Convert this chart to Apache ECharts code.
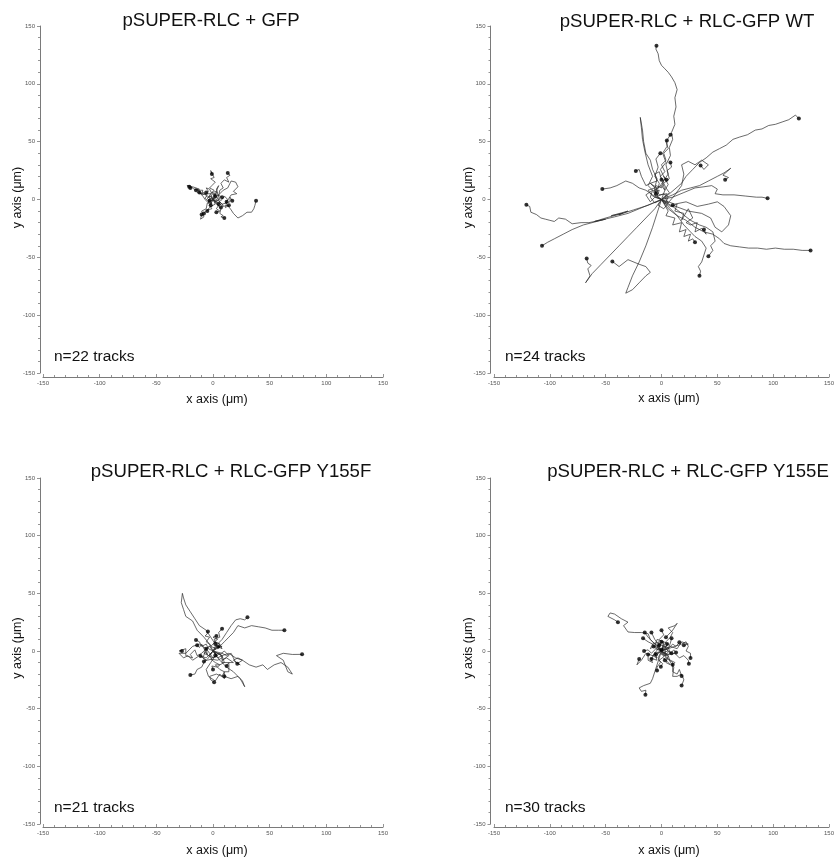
<!DOCTYPE html>
<html>
<head>
<meta charset="utf-8">
<title>Cell migration tracks</title>
<script src="https://cdn.jsdelivr.net/npm/echarts@6/dist/echarts.min.js"></script>
<style>
  html, body { margin: 0; padding: 0; background: #fff; }
  #chart { width: 837px; height: 858px; }
</style>
</head>
<body>
<div id="chart"></div>
<script>
// Migration tracks (µm), each a flat list x0,y0,x1,y1,... starting at the origin.
// The last point of every track is the cell's final position.

const gfpTracks = [
  [0,0, 2,4, -1,6, 3,7, 5,3, 6,8, 9,10, 7,14, 10,17, 14,15, 12,19, 15,21, 13,23],
  [0,0, -2,5, 1,8, -3,10, -1,12, 2,15, -2,18, 1,19, 0,21, -2,25, -1,22],
  [0,0, -4,2, -2,5, -6,5, -10,4, -9,8, -13,8, -17,9, -20,12, -23,12, -21,11],
  [0,0, -3,-2, -7,1, -5,4, -9,5, -14,6, -12,9, -18,11, -20,10],
  [0,0, -2,3, -5,2, -8,6, -11,5, -13,9, -15,8],
  [0,0, -3,1, -4,-3, -7,0, -9,3, -12,6],
  [0,0, 2,3, -1,5, -3,9, -6,10, -4,7, -6,6],
  [0,0, 3,-2, 6,1, 4,4, 8,2],
  [0,0, 4,2, 7,-1, 10,3, 13,0, 11,-3, 15,-2, 15,2, 17,-1],
  [0,0, 5,-3, 9,-6, 13,-5, 16,-9, 18,-12, 22,-16, 26,-14, 30,-11, 34,-11, 36,-8, 37,-5, 38,-1],
  [0,0, -2,-4, -5,-3, -6,-8, -10,-10, -8,-15, -11,-17, -10,-13],
  [0,0, -3,-5, -1,-8, -5,-9, -8,-12],
  [0,0, 2,-4, -2,-6, -4,-8, -5,-10],
  [0,0, 2,-3, 5,-5, 3,-8, 6,-10, 3,-11],
  [0,0, 4,-4, 7,-8, 6,-12, 9,-14, 7,-15, 10,-16],
  [0,0, 5,4, 9,8, 13,10, 16,16, 20,15, 22,11, 18,7, 21,5, 16,4, 14,1, 12,-2],
  [0,0, -2,3, -5,1, -3,-1],
  [0,0, 2,-2, 4,1, 6,-2, 5,-4],
  [0,0, 1,5, 4,6, 3,9, 5,12, 3,7, 2,3],
  [0,0, 3,-3, 6,-2, 9,-5, 7,-7],
  [0,0, -4,-2, -1,-3, -2,-5],
  [0,0, 5,-1, 8,-4, 12,-3, 11,-7, 14,-5]
];

const wtTracks = [
  [0,0, 3,8, 1,15, 6,22, 4,30, 8,38, 7,45, 10,52, 9,58, 12,65, 11,72, 13,80, 12,88, 14,95, 12,101, 9,106, 6,110, 3,113, 0,116, -2,120, -3,126, -5,130, -4.5,133],
  [0,0, 6,4, 12,9, 18,14, 22,20, 28,26, 34,32, 40,36, 46,41, 52,44, 58,47, 64,52, 70,54, 77,56, 84,60, 90,61, 96,64, 102,65, 108,67, 114,69, 120,73, 123,70],
  [0,0, -4,3, -2,8, -7,6, -5,12, 0,10, 2,16, -1,20, 3,24, 0,30, 4,34, 2,40, 6,44, 4,50, 8,56],
  [0,0, 3,-4, 6,2, 2,5, -3,3, -6,8, -1,12, 3,18, -1,26, 4,32, 1,40, 5,46, 4.8,51],
  [0,0, -6,2, -10,-2, -14,4, -8,8, -4,6, -2,14, -6,20, -3,28, -5,35, -1,40],
  [0,0, -3,-5, 2,-8, 6,-3, 3,2, 7,6, 4,10, 2,14, 7,18, 5,25, 9,28, 8,32],
  [0,0, 6,-3, 12,4, 18,12, 20,22, 18,30, 24,33, 30,30, 36,34, 42,30, 38,26, 35,29.5],
  [0,0, -6,4, -4,10, -10,14, -14,12, -18,20, -20,26, -23,24.6],
  [0,0, 10,4, 18,8, 26,10, 34,12, 42,16, 50,20, 56,23, 62,27, 55,21, 60,19, 57,17],
  [0,0, -8,4, -14,8, -20,10, -26,14, -32,16, -40,12, -46,10, -53,9],
  [0,0, 10,2, 20,6, 30,10, 38,11, 45,12, 50,9, 48,5, 55,4, 65,4, 75,3, 85,2, 90,2, 95,1],
  [0,0, -10,-4, -20,-8, -30,-12, -42,-15, -55,-18, -65,-20, -72,-20, -80,-21, -86,-17, -92,-16, -96,-19, -100,-18, -104,-17, -108,-16, -112,-13, -117,-11, -118,-6, -121,-4.6],
  [0,0, -12,-5, -25,-9, -38,-13, -30,-10, -45,-14, -35,-12, -50,-16, -60,-19, -50,-17, -70,-22, -80,-26, -88,-30, -96,-34, -102,-37, -107,-40],
  [0,0, 8,-6, 14,-4, 12,-10, 20,-12, 18,-18, 24,-8, 28,-16, 22,-20, 26,-22, 32,-20, 30,-28, 36,-25, 40,-30, 38,-26],
  [0,0, 6,-10, 4,-14, 12,-16, 10,-22, 18,-20, 16,-28, 22,-26, 20,-32, 26,-30, 24,-36, 28,-34, 30,-37],
  [0,0, 8,-8, 14,-14, 22,-18, 30,-24, 38,-28, 46,-30, 52,-34, 56,-38, 62,-40, 70,-41, 78,-42, 86,-42, 94,-43, 102,-42, 110,-43, 118,-43, 126,-44, 133.5,-44],
  [0,0, 10,-6, 18,-12, 26,-18, 34,-22, 40,-24, 46,-28, 48,-36, 44,-40, 46,-44, 42,-49],
  [0,0, -6,-8, -14,-16, -22,-24, -30,-32, -38,-40, -46,-48, -54,-56, -62,-64, -68,-72, -64,-66, -66,-60, -63,-57, -66,-55, -67,-51],
  [0,0, -4,-12, -8,-24, -14,-40, -20,-54, -26,-66, -30,-76, -32,-81, -26,-78, -20,-72, -14,-66, -10,-63, -14,-58, -20,-56, -30,-52, -38,-58, -44,-53.5],
  [0,0, 6,-8, 14,-14, 20,-22, 26,-28, 30,-32, 36,-36, 40,-42, 38,-48, 36,-54, 33,-58, 35,-62, 34,-66],
  [0,0, -8,3, -12,8, -6,10, -10,14, -4,16, -6,22, -2,24, 0,17],
  [0,0, 5,5, -2,4, -5,9, 0,12, 3,8, 6,13, 2,20, 4.5,17],
  [0,0, -6,-3, -10,2, -8,8, -12,12, -8,20, -12,30, -15,42, -17,52, -18,62, -19,71, -17,60, -16,50, -14,40, -10,34, -8,26, -4,18, -6,10, -5,5],
  [0,0, 12,-4, 22,-2, 32,-6, 42,-4, 50,-2, 56,-6, 62,-14, 60,-22, 54,-28, 48,-24, 44,-16, 36,-12, 24,-10, 10,-5]
];

const y155fTracks = [
  [0,0, 4,6, 8,10, 12,16, 16,22, 20,27, 24,28, 28,27, 30.4,29.2],
  [0,0, 6,4, 10,8, 14,12, 18,16, 22,22, 28,20, 34,22, 40,21, 46,20, 52,18, 58,18, 63,18],
  [0,0, 8,-4, 14,-2, 20,-6, 26,-8, 32,-12, 38,-14, 44,-12, 48,-16, 54,-12, 60,-10, 66,-14, 70,-20, 66,-18, 62,-8, 56,-4, 62,-2, 70,-3, 78.6,-2.9],
  [0,0, 3,-3, 0,-6, -3,-2, -6,2, -2,5, -6,8, -3,12, -7,13, -5,15, -4.5,16.8],
  [0,0, 3,6, 1,10, 6,12, 5,16, 8,19.4],
  [0,0, 4,4, 8,2, 6,6, 1,8, 4,10, 0,12, 3,13],
  [0,0, -4,2, -6,6, -10,4, -12,8, -15,9.5],
  [0,0, -4,-4, -8,-2, -6,2, -10,-2, -14,-4, -16,1, -20,-3, -18,-6, -24,-4, -24,2, -30,0, -27.4,0],
  [0,0, -3,4, -6,2, -5,-3, -8,2, -10,6, -12,3, -14,5],
  [0,0, 4,-4, 0,-6, -4,-4, -7,-1, -9,-6, -6,-8, -11,-4.3],
  [0,0, -3,-4, -1,-7, -5,-8, -8,-9],
  [0,0, -4,-6, -8,-10, -10,-14, -14,-16, -16,-20, -20,-20.8],
  [0,0, 3,-4, 6,-2, 8,-6, 4,-8, -2,-7, 2,-10, 6,-12, 4,-14, -1,-13, 0,-16],
  [0,0, 4,-6, 8,-4, 10,-10, 6,-12, 2,-12, 6,-16, 10,-18, 8,-22, 3,-20, -3,-22, -2,-25, 1,-27],
  [0,0, 6,-3, 10,0, 14,-4, 8,-8, 12,-6, 18,-10, 14,-10, 12,-13],
  [0,0, 8,-2, 12,-4, 16,-2, 20,-10, 24,-12, 18,-8, 22,-6, 26,-8, 21.4,-11],
  [0,0, 3,2, -2,4, 2,8, 6,6, 4,2, 8,4, 4.5,3.8],
  [0,0, -3,6, -8,12, -14,18, -18,26, -24,30, -26,36, -28,42, -27,50, -26,46, -24,40, -20,34, -16,28, -12,22, -6,18, -2,12, 2,6],
  [0,0, 6,-8, 12,-14, 18,-18, 24,-24, 28,-31, 26,-26, 22,-22, 16,-24, 10,-22],
  [0,0, -6,-6, -12,-4, -18,-8, -22,-4, -26,-6, -30,-2, -24,-2, -18,4, -12,6, -6,2],
  [0,0, 8,-4, 8,-10, 14,-10, 14,-18, 10,-18, 10,-24, 6,-20, 2,-26, -4,-22, -6,-16, -2,-10, 2,-4]
];

const y155eTracks = [
  [0,0, -6,6, -10,10, -12,15, -18,16, -24,16, -30,16.5, -34,22, -30,25, -36,28, -42,32, -46,33, -48,30, -42,27, -39,25],
  [0,0, -4,5, -8,8, -12,12, -15,16],
  [0,0, -3,6, -6,10, -9,16],
  [0,0, 2,6, -2,10, 2,14, 0,18],
  [0,0, -5,2, -8,6, -12,8, -16.5,11],
  [0,0, 4,4, 6,2, 8,7, 9,11],
  [0,0, 6,2, 10,6, 13,4, 16,7.5],
  [0,0, -5,2, -9,-2, -12,1, -15.6,0],
  [0,0, -4,-3, -6,-1, -8,-5, -9,-7],
  [0,0, -4,3, -2,6, 3,4, 6,0, 2,-1, 4,-4, 0,-3, 0,1],
  [0,0, 3,3, 6,6, 2,8, -3,6, -1,5, 0,8],
  [0,0, 4,2, 8,-2, 11,1, 13,-1.4],
  [0,0, 6,2, 12,4, 18,6, 22,8, 24,4, 22,0, 26,-2, 26,-6],
  [0,0, 6,-3, 12,-2, 16,-6, 20,-4, 24,-8, 24.5,-11],
  [0,0, 4,-6, 10,-10, 10,-18, 14,-20, 16,-16, 18,-21.7],
  [0,0, 6,-4, 8,-10, 11,-14, 10,-22, 14,-22, 18,-20, 20,-25, 18,-30],
  [0,0, -2,-6, -4,-12, -6,-18, -8,-24, -10,-28, -16,-30, -20,-32, -18,-35, -14,-34, -14.4,-38],
  [0,0, -3,-6, -1,-10, -4,-14, -4,-17],
  [0,0, 2,-5, -2,-8, 1,-11, -0.6,-13.6],
  [0,0, 4,-3, 7,0, 9,-2],
  [0,0, 4,8, 8,12, 10,16, 6,20, 12,22, 14,24, 10,18, 6,14, 4,12],
  [0,0, -3,2, -6,-2, -4,-6, -8,-4, -5,-3],
  [0,0, 2,4, 6,3, 8,-2, 4,-4, 3,2, 5,6],
  [0,0, -6,-2, -4,-8, -10,-6, -8,-10, -12,-8, -12,-3],
  [0,0, 8,4, 14,2, 18,8, 24,6, 20,5],
  [0,0, -8,-4, -14,-2, -18,-8, -22,-12, -20,-7],
  [0,0, 6,-4, 4,-10, 8,-12, 2,-6, 3,-8],
  [0,0, -4,4, -2,8, -8,6, -10,2, -7,4],
  [0,0, 5,-6, 8,-8, 12,-10, 10,-12],
  [0,0, 2,8, -4,10, -6,4, -2,2, -2,5]
];

const panelTitles = [
  'pSUPER-RLC + GFP',
  'pSUPER-RLC + RLC-GFP WT',
  'pSUPER-RLC + RLC-GFP Y155F',
  'pSUPER-RLC + RLC-GFP Y155E'
];
const panelTracks = [gfpTracks, wtTracks, y155fTracks, y155eTracks];

const axisMin = -150;
const axisMax = 150;
const axisStep = 50;
const xAxisName = 'x axis (\u03bcm)';
const yAxisName = 'y axis (\u03bcm)';

// Page layout of the four panels (pixels).
const layout = [
  { left: 43,  top: 26,  width: 340,   height: 347, yOff: 3,   xOff: 4, title: [211, 21],  xName: [217, 400], yName: [17.5, 197.5], count: [54, 356.5] },
  { left: 494, top: 26,  width: 340.5, height: 347, yOff: 3.5, xOff: 4, title: [687, 22],  xName: [669, 399], yName: [468.5, 197.5], count: [505, 357] },
  { left: 43,  top: 478, width: 340,   height: 346, yOff: 3,   xOff: 3, title: [231, 472], xName: [217, 851], yName: [17.5, 648], count: [54, 808] },
  { left: 494, top: 478, width: 340.5, height: 346, yOff: 3.5, xOff: 3, title: [688, 472], xName: [669, 851], yName: [468.5, 648], count: [505, 808] }
];

const FONT = '"Liberation Sans", Arial, sans-serif';
const axisGrey = '#7a7a7a';

function toPairs(flat) {
  const pts = [];
  for (let i = 0; i < flat.length; i += 2) pts.push([flat[i], flat[i + 1]]);
  return pts;
}

const grids = [], xAxes = [], yAxes = [], series = [], graphics = [];

layout.forEach((g, i) => {
  grids.push({ left: g.left, top: g.top, width: g.width, height: g.height });

  const common = {
    gridIndex: i,
    type: 'value',
    min: axisMin,
    max: axisMax,
    interval: axisStep,
    splitLine: { show: false },
    axisLine: { onZero: false, lineStyle: { color: axisGrey, width: 1 } },
    minorTick: { show: true, splitNumber: 5, length: 2, lineStyle: { color: axisGrey, width: 0.8 } },
    axisLabel: { fontSize: 6, color: '#555', fontFamily: FONT }
  };
  xAxes.push(Object.assign({}, common, {
    position: 'bottom',
    offset: g.xOff,
    axisTick: { inside: true, length: 3, lineStyle: { color: axisGrey, width: 0.8 } },
    axisLabel: Object.assign({}, common.axisLabel, { margin: 3 })
  }));
  yAxes.push(Object.assign({}, common, {
    position: 'left',
    offset: g.yOff,
    axisTick: { length: 3, lineStyle: { color: axisGrey, width: 0.8 } },
    axisLabel: Object.assign({}, common.axisLabel, { margin: 5 })
  }));

  const tracks = panelTracks[i];
  tracks.forEach(t => {
    series.push({
      type: 'line',
      xAxisIndex: i,
      yAxisIndex: i,
      data: toPairs(t),
      showSymbol: false,
      silent: true,
      lineStyle: { color: '#2b2b2b', width: 0.7 },
      animation: false
    });
  });
  // final position of each cell
  series.push({
    type: 'scatter',
    xAxisIndex: i,
    yAxisIndex: i,
    data: tracks.map(t => [t[t.length - 2], t[t.length - 1]]),
    symbol: 'circle',
    symbolSize: 4,
    itemStyle: { color: '#000' },
    silent: true,
    animation: false,
    z: 3
  });

  graphics.push(
    { type: 'text', x: g.title[0], y: g.title[1],
      style: { text: panelTitles[i], font: '18.6px ' + FONT, fill: '#111',
               textAlign: 'center', align: 'center', textVerticalAlign: 'middle', verticalAlign: 'middle' } },
    { type: 'text', x: g.xName[0], y: g.xName[1],
      style: { text: xAxisName, font: '12.5px ' + FONT, fill: '#111',
               textAlign: 'center', align: 'center', textVerticalAlign: 'middle', verticalAlign: 'middle' } },
    { type: 'text', x: g.yName[0], y: g.yName[1], rotation: Math.PI / 2,
      style: { text: yAxisName, font: '12.5px ' + FONT, fill: '#111',
               textAlign: 'center', align: 'center', textVerticalAlign: 'middle', verticalAlign: 'middle' } },
    { type: 'text', x: g.count[0], y: g.count[1],
      style: { text: 'n=' + tracks.length + ' tracks', font: '15.5px ' + FONT, fill: '#111',
               textAlign: 'left', align: 'left', textVerticalAlign: 'middle', verticalAlign: 'middle' } }
  );
});

const chart = echarts.init(document.getElementById('chart'), null, { renderer: 'canvas' });
chart.setOption({
  animation: false,
  backgroundColor: '#fff',
  grid: grids,
  xAxis: xAxes,
  yAxis: yAxes,
  series: series,
  graphic: graphics
});
</script>
</body>
</html>
